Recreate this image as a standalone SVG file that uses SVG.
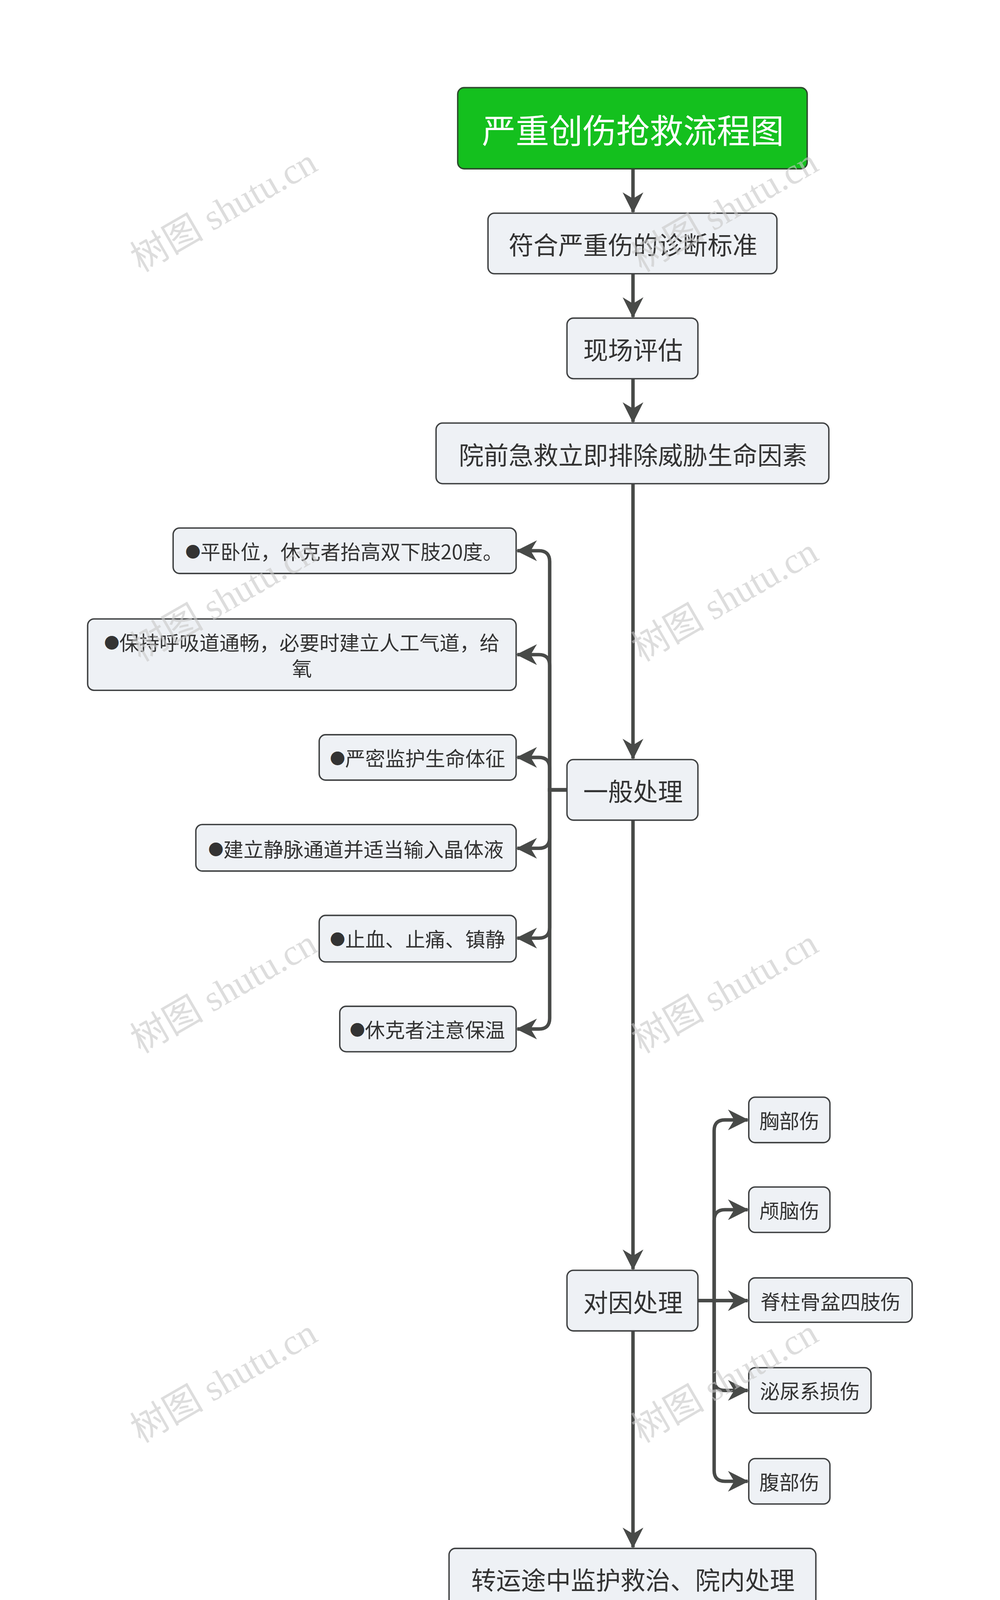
<svg xmlns="http://www.w3.org/2000/svg" width="2560" height="4344" viewBox="0 0 2560 4344">
<defs>
<style>
.n rect{fill:#eef1f5;stroke:#3f4142;stroke-width:1.3}
.t{font-family:"Noto Sans CJK SC","Noto Sans",sans-serif;fill:#333;text-anchor:middle;dominant-baseline:central}
.b{font-size:14px}
.c path{fill:none;stroke:#484a48;stroke-width:3.2;marker-end:url(#a)}
.w{font-family:"Liberation Serif","Noto Sans CJK SC",serif;font-size:34px;fill:#c8c8c8;opacity:0.6}
</style>
<marker id="a" viewBox="0 0 10 10" refX="9.5" refY="5" markerWidth="6" markerHeight="6" orient="auto" markerUnits="strokeWidth"><path d="M0,0 L10,5 L0,10 L3,5 z" fill="#484a48"/></marker>
</defs>
<rect width="2560" height="4344" fill="#fff"/>
<g transform="scale(2.77)">
<g class="c">
<path d="M585,156 V196"/>
<path d="M585,253 V293"/>
<path d="M585,350 V390"/>
<path d="M585,447 V701"/>
<path d="M585,758 V1173"/>
<path d="M585,1230 V1430"/>
<path d="M524,730 H508 V519 Q508,509 498,509 H478"/>
<path d="M524,730 H508 V615 Q508,605 498,605 H478"/>
<path d="M524,730 H508 V710 Q508,700 498,700 H478"/>
<path d="M524,730 H508 V774 Q508,784 498,784 H478"/>
<path d="M524,730 H508 V857 Q508,867 498,867 H478"/>
<path d="M524,730 H508 V941 Q508,951 498,951 H478"/>
<path d="M645,1202 H660 V1045 Q660,1035 670,1035 H691"/>
<path d="M645,1202 H660 V1128 Q660,1118 670,1118 H691"/>
<path d="M645,1202 H691"/>
<path d="M645,1202 H660 V1275 Q660,1285 670,1285 H691"/>
<path d="M645,1202 H660 V1359 Q660,1369 670,1369 H691"/>
</g>
<g id="title"><rect x="423" y="81" width="323" height="75" rx="6" fill="#14c01e" stroke="#2e4a2e" stroke-width="1.3"/><text class="t" x="585" y="119" font-size="31" style="fill:#fff">严重创伤抢救流程图</text></g>
<g id="n1" class="n"><rect x="451" y="197" width="267" height="56" rx="6"/><text class="t" x="585" y="225" font-size="23">符合严重伤的诊断标准</text></g>
<g id="n2" class="n"><rect x="524" y="294" width="121" height="56" rx="6"/><text class="t" x="585" y="322" font-size="23">现场评估</text></g>
<g id="n3" class="n"><rect x="403" y="391" width="363" height="56" rx="6"/><text class="t" x="585" y="419" font-size="23">院前急救立即排除威胁生命因素</text></g>
<g id="n4" class="n"><rect x="524" y="702" width="121" height="56" rx="6"/><text class="t" x="585" y="730" font-size="23">一般处理</text></g>
<g id="l1" class="n"><rect x="160" y="488" width="317" height="42" rx="6"/><text class="t" x="318" y="509" font-size="18.5"><tspan class="b">●</tspan>平卧位，休克者抬高双下肢20度。</text></g>
<g id="l2" class="n"><rect x="81" y="572" width="396" height="66" rx="6"/><text class="t" x="279" y="593" font-size="18.5"><tspan class="b">●</tspan>保持呼吸道通畅，必要时建立人工气道，给</text><text class="t" x="279" y="617" font-size="18.5">氧</text></g>
<g id="l3" class="n"><rect x="295" y="679" width="182" height="42" rx="6"/><text class="t" x="386" y="700" font-size="18.5"><tspan class="b">●</tspan>严密监护生命体征</text></g>
<g id="l4" class="n"><rect x="181" y="762" width="296" height="43" rx="6"/><text class="t" x="329" y="784" font-size="18.5"><tspan class="b">●</tspan>建立静脉通道并适当输入晶体液</text></g>
<g id="l5" class="n"><rect x="295" y="846" width="182" height="43" rx="6"/><text class="t" x="386" y="867" font-size="18.5"><tspan class="b">●</tspan>止血、止痛、镇静</text></g>
<g id="l6" class="n"><rect x="314" y="930" width="163" height="42" rx="6"/><text class="t" x="395" y="951" font-size="18.5"><tspan class="b">●</tspan>休克者注意保温</text></g>
<g id="n5" class="n"><rect x="524" y="1174" width="121" height="56" rx="6"/><text class="t" x="585" y="1202" font-size="23">对因处理</text></g>
<g id="r1" class="n"><rect x="692" y="1014" width="75" height="42" rx="6"/><text class="t" x="729.5" y="1035" font-size="18.5">胸部伤</text></g>
<g id="r2" class="n"><rect x="692" y="1097" width="75" height="42" rx="6"/><text class="t" x="729.5" y="1118" font-size="18.5">颅脑伤</text></g>
<g id="r3" class="n"><rect x="692" y="1181" width="151" height="41" rx="6"/><text class="t" x="767.5" y="1202" font-size="18.5">脊柱骨盆四肢伤</text></g>
<g id="r4" class="n"><rect x="692" y="1264" width="113" height="42" rx="6"/><text class="t" x="748.5" y="1285" font-size="18.5">泌尿系损伤</text></g>
<g id="r5" class="n"><rect x="692" y="1348" width="75" height="42" rx="6"/><text class="t" x="729.5" y="1369" font-size="18.5">腹部伤</text></g>
<g id="n6" class="n"><rect x="415" y="1431" width="339" height="56" rx="6"/><text class="t" x="585" y="1459" font-size="23">转运途中监护救治、院内处理</text></g>
<g>
<text class="w" transform="translate(130,252) rotate(-30)">树图 shutu.cn</text>
<text class="w" transform="translate(593,252) rotate(-30)">树图 shutu.cn</text>
<text class="w" transform="translate(130,612) rotate(-30)">树图 shutu.cn</text>
<text class="w" transform="translate(593,612) rotate(-30)">树图 shutu.cn</text>
<text class="w" transform="translate(130,974) rotate(-30)">树图 shutu.cn</text>
<text class="w" transform="translate(593,974) rotate(-30)">树图 shutu.cn</text>
<text class="w" transform="translate(130,1334) rotate(-30)">树图 shutu.cn</text>
<text class="w" transform="translate(593,1334) rotate(-30)">树图 shutu.cn</text>
</g>
</g>
</svg>
